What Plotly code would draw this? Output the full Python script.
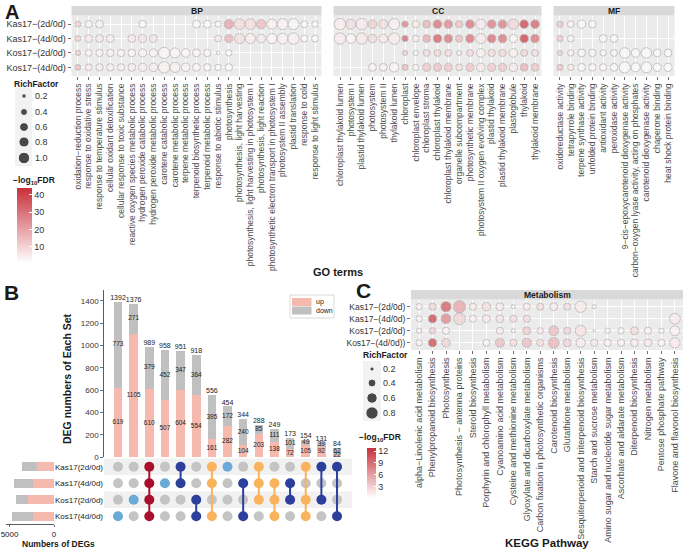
import plotly.graph_objects as go

W, H = 685, 550
FONT = "Liberation Sans, Arial, Helvetica, sans-serif"
N = None

def X(px):
    return px / W

def Y(py):
    return 1 - py / H

# ------------------------------------------------------------------ data A
go_rows = ["Kas17−(2d/0d)", "Kas17−(4d/0d)", "Kos17−(2d/0d)", "Kos17−(4d/0d)"]

bp_terms = ["oxidation−reduction process", "response to oxidative stress",
            "response to temperature stimulus", "cellular oxidant detoxification",
            "cellular response to toxic substance", "reactive oxygen species metabolic process",
            "hydrogen peroxide catabolic process", "hydrogen peroxide metabolic process",
            "carotene catabolic process", "carotene metabolic process",
            "terpene metabolic process", "terpenoid biosynthetic process",
            "terpenoid metabolic process", "response to abiotic stimulus", "photosynthesis",
            "photosynthesis, light harvesting", "photosynthesis, light harvesting in photosystem I",
            "photosynthesis, light reaction", "photosynthetic electron transport in photosystem I",
            "photosystem II assembly", "plastid translation", "response to cold",
            "response to light stimulus"]
bp_rich_kas2 = [0.30, 0.45, 0.50, N, N, N, 0.45, N, N, N, N, 0.50, 0.50, 0.35, 0.70, 0.90, 0.90, 0.70, 0.80, 0.95, 0.95, 0.40, 0.35]
bp_fdr_kas2 = [12, 4, 4, N, N, N, 2, N, N, N, N, 2, 2, 3, 22, 9, 8, 16, 4, 4, 3, 2, 2]
bp_rich_kas4 = [0.30, 0.50, 0.50, 0.50, N, 0.50, 0.55, 0.50, N, N, N, N, N, 0.40, 0.55, 0.80, 0.80, 0.60, 0.80, 0.90, 1.00, 0.40, 0.40]
bp_fdr_kas4 = [12, 6, 6, 5, N, 6, 7, 7, N, N, N, N, N, 6, 18, 8, 5, 6, 3, 4, 4, 2, 2]
bp_rich_kos2 = [0.25, 0.40, 0.45, 0.45, 0.45, 0.50, 0.55, 0.55, 1.00, 0.80, 0.60, 0.50, 0.45, 0.15, 0.35, N, N, N, N, N, N, N, N]
bp_fdr_kos2 = [12, 4, 4, 4, 4, 4, 4, 4, 3, 3, 3, 3, 3, 2, 2, N, N, N, N, N, N, N, N]
bp_rich_kos4 = [0.30, 0.40, 0.45, 0.45, 0.45, 0.50, 0.55, 0.60, 1.00, 0.80, 0.60, 0.50, 0.45, 0.35, 0.45, N, N, N, N, N, N, N, N]
bp_fdr_kos4 = [16, 6, 6, 5, 5, 5, 5, 5, 4, 4, 4, 3, 3, 2, 2, N, N, N, N, N, N, N, N]

cc_terms = ["chloroplast thylakoid lumen", "photosystem I", "plastid thylakoid lumen",
            "photosystem", "photosystem II", "thylakoid lumen", "chloroplast",
            "chloroplast envelope", "chloroplast stroma", "chloroplast thylakoid",
            "chloroplast thylakoid membrane", "organelle subcompartment",
            "photosynthetic membrane", "photosystem II oxygen evolving complex",
            "plastid thylakoid", "plastid thylakoid membrane", "plastoglobule",
            "thylakoid", "thylakoid membrane"]
cc_rich_kas2 = [1.00, 0.80, 1.00, 0.60, 0.65, 0.95, 0.35, 0.45, 0.50, 0.60, 0.60, 0.45, 0.60, 0.80, 0.60, 0.60, 0.85, 0.60, 0.60]
cc_fdr_kas2 = [4, 8, 5, 12, 8, 4, 30, 5, 18, 33, 28, 15, 32, 5, 30, 30, 10, 43, 36]
cc_rich_kas4 = [1.00, 0.75, 1.00, 0.60, 0.60, 1.00, 0.35, 0.40, 0.50, 0.60, 0.60, 0.45, 0.60, 0.80, 0.60, 0.60, 0.55, 0.60, 0.60]
cc_fdr_kas4 = [5, 3, 6, 9, 6, 5, 36, 5, 20, 37, 32, 16, 33, 6, 34, 32, 3, 45, 32]
cc_rich_kos2 = [N, N, N, N, N, N, 0.25, 0.25, 0.40, 0.40, 0.40, 0.25, 0.40, 0.60, 0.45, 0.45, 0.60, 0.40, 0.40]
cc_fdr_kos2 = [N, N, N, N, N, N, 12, 2, 9, 10, 9, 6, 9, 4, 9, 9, 4, 10, 8]
cc_rich_kos4 = [N, N, N, 0.50, 0.50, 0.70, 0.35, 0.35, 0.55, 0.55, 0.55, 0.40, 0.55, 0.60, 0.55, 0.55, 0.60, 0.50, 0.50]
cc_fdr_kos4 = [N, N, N, 4, 4, 3, 17, 4, 13, 15, 14, 8, 14, 6, 13, 13, 6, 18, 14]

mf_terms = ["oxidoreductase activity", "tetrapyrrole binding", "terpene synthase activity",
            "unfolded protein binding", "antioxidant activity", "peroxidase activity",
            "9−cis−epoxycarotenoid dioxygenase activity",
            "carbon−oxygen lyase activity, acting on phosphates",
            "carotenoid dioxygenase activity", "chaperone binding", "heat shock protein binding"]
mf_rich_kas2 = [0.35, 0.40, 0.55, 0.45, N, N, N, N, N, N, N]
mf_fdr_kas2 = [14, 4, 2, 2, N, N, N, N, N, N, N]
mf_rich_kas4 = [0.35, 0.40, N, N, 0.50, 0.50, N, N, N, N, N]
mf_fdr_kas4 = [13, 4, N, N, 3, 3, N, N, N, N, N]
mf_rich_kos2 = [0.25, 0.35, 0.50, 0.45, 0.35, 0.40, 0.85, 0.60, 0.85, 0.50, 0.50]
mf_fdr_kos2 = [12, 4, 3, 3, 3, 3, 2, 2, 2, 2, 2]
mf_rich_kos4 = [0.35, 0.35, 0.50, 0.45, 0.45, 0.50, 0.95, 0.65, 0.90, 0.55, 0.55]
mf_fdr_kos4 = [15, 5, 3, 3, 3, 3, 2, 2, 2, 2, 2]

go_size_legend = [0.2, 0.4, 0.6, 0.8, 1.0]
go_fdr_ticks = [10, 20, 30, 40]

# ------------------------------------------------------------------ data B
int_total = [1392, 1376, 989, 958, 951, 918, 556, 454, 344, 288, 249, 173, 154, 131, 84]
int_up = [619, 1105, 610, 507, 604, 554, 161, 282, 104, 203, 138, 72, 105, 92, 22]
int_down = [773, 271, 379, 452, 347, 364, 395, 172, 240, 85, 111, 101, 49, 39, 62]
set_rows = ["Kas17(2d/0d)", "Kas17(4d/0d)", "Kos17(2d/0d)", "Kos17(4d/0d)"]
int_sets = [
    ["Kos17(4d/0d)"],
    ["Kos17(2d/0d)"],
    ["Kas17(2d/0d)", "Kas17(4d/0d)", "Kos17(2d/0d)", "Kos17(4d/0d)"],
    ["Kas17(4d/0d)"],
    ["Kas17(2d/0d)", "Kas17(4d/0d)"],
    ["Kos17(2d/0d)", "Kos17(4d/0d)"],
    ["Kas17(2d/0d)", "Kas17(4d/0d)", "Kos17(4d/0d)"],
    ["Kas17(2d/0d)"],
    ["Kas17(4d/0d)", "Kos17(4d/0d)"],
    ["Kas17(2d/0d)", "Kas17(4d/0d)", "Kos17(2d/0d)"],
    ["Kas17(4d/0d)", "Kos17(2d/0d)", "Kos17(4d/0d)"],
    ["Kas17(4d/0d)", "Kos17(2d/0d)"],
    ["Kas17(2d/0d)", "Kos17(2d/0d)", "Kos17(4d/0d)"],
    ["Kas17(2d/0d)", "Kos17(2d/0d)"],
    ["Kas17(2d/0d)", "Kos17(4d/0d)"],
]
set_up = [1950, 2400, 2890, 2330]
set_down = [1657, 2108, 1388, 2356]
b_yticks = [0, 200, 400, 600, 800, 1000, 1200, 1400]
set_xticks = [0, 5000]

# ------------------------------------------------------------------ data C
kegg_rows = ["Kas17−(2d/0d)", "Kas17−(4d/0d)", "Kos17−(2d/0d)", "Kos17−(4d/0d))"]
kegg_terms = ["alpha−Linolenic acid metabolism", "Phenylpropanoid biosynthesis",
              "Photosynthesis", "Photosynthesis − antenna proteins", "Steroid biosynthesis",
              "Porphyrin and chlorophyll metabolism", "Cyanoamino acid metabolism",
              "Cysteine and methionine metabolism", "Glyoxylate and dicarboxylate metabolism",
              "Carbon fixation in photosynthetic organisms", "Carotenoid biosynthesis",
              "Glutathione metabolism", "Sesquiterpenoid and triterpenoid biosynthesis",
              "Starch and sucrose metabolism", "Amino sugar and nucleotide sugar metabolism",
              "Ascorbate and aldarate metabolism", "Diterpenoid biosynthesis",
              "Nitrogen metabolism", "Pentose phosphate pathway",
              "Flavone and flavonol biosynthesis"]
kegg_rich_kas2 = [0.30, 0.35, 0.60, 0.80, 0.35, 0.45, 0.40, 0.20, 0.35, 0.35, 0.40, 0.35, 0.70, 0.20, N, N, N, N, N, N]
kegg_fdr_kas2 = [1, 3, 11, 6, 1.5, 2.5, 1.5, 0.8, 1.5, 2.5, 1.5, 2.5, 1.5, 0.8, N, N, N, N, N, N]
kegg_rich_kas4 = [0.30, 0.45, 0.55, 0.75, 0.35, 0.40, 0.40, 0.35, 0.35, N, N, N, N, N, N, N, N, N, N, 0.65]
kegg_fdr_kas4 = [1, 12.5, 8, 3, 1, 1.5, 2, 2.5, 2.5, N, N, N, N, N, N, N, N, N, N, 1.5]
kegg_rich_kos2 = [0.25, 0.30, 0.35, N, N, N, 0.35, 0.20, 0.40, 0.30, 0.55, 0.35, 0.65, 0.15, 0.25, 0.30, 0.40, 0.35, 0.25, 0.55]
kegg_fdr_kos2 = [1, 3.5, 1, N, N, N, 1.5, 1, 3.5, 1.5, 4.5, 3, 2, 0.5, 0.8, 0.8, 2.5, 1, 0.8, 1]
kegg_rich_kos4 = [0.30, 0.45, 0.45, N, N, 0.35, 0.50, 0.35, 0.50, 0.35, 0.65, 0.40, 0.50, 0.35, 0.35, 0.35, 0.40, 0.40, 0.35, 0.60]
kegg_fdr_kos4 = [1, 12, 3, N, N, 1, 4.5, 2.5, 4.5, 2.5, 5, 3, 1.5, 1.5, 1, 1, 1.5, 1.5, 1, 1.5]
kegg_size_legend = [0.2, 0.4, 0.6, 0.8]
kegg_fdr_ticks = [3, 6, 9, 12]

# ------------------------------------------------------------------ style
PANEL_BG = "#ebebeb"
STRIP_BG = "#d9d9d9"
UP_COL = "#f6b9ad"
DOWN_COL = "#c0c0c0"
DOT_GRAY = "#c4c4c4"
DEG_COLS = {1: "#6aaad6", 2: "#2b3f9b", 3: "#fab35d", 4: "#a8102c"}
RED_SCALE = [[0, "#ffffff"], [1, "#c8303a"]]


def size_a(r):
    return (max(140 * r - 8, 4)) ** 0.5


def size_c(r):
    return (max(225 * r - 27, 4)) ** 0.5


fig = go.Figure()


def dot_trace(terms, rows, rich_rows, fdr_rows, xa, ya, cax, size_fn):
    xs, ys, ss, cs = [], [], [], []
    for row, rich, fdr in zip(rows, rich_rows, fdr_rows):
        for t, r, f in zip(terms, rich, fdr):
            if r is None:
                continue
            xs.append(t)
            ys.append(row)
            ss.append(size_fn(r))
            cs.append(f)
    return go.Scatter(x=xs, y=ys, mode="markers", xaxis=xa, yaxis=ya,
                      marker=dict(size=ss, color=cs, coloraxis=cax,
                                  line=dict(color="#a9a9a9", width=0.9)),
                      showlegend=False, hoverinfo="skip")


fig.add_trace(dot_trace(bp_terms, go_rows,
                        [bp_rich_kas2, bp_rich_kas4, bp_rich_kos2, bp_rich_kos4],
                        [bp_fdr_kas2, bp_fdr_kas4, bp_fdr_kos2, bp_fdr_kos4],
                        "x", "y", "coloraxis", size_a))
fig.add_trace(dot_trace(cc_terms, go_rows,
                        [cc_rich_kas2, cc_rich_kas4, cc_rich_kos2, cc_rich_kos4],
                        [cc_fdr_kas2, cc_fdr_kas4, cc_fdr_kos2, cc_fdr_kos4],
                        "x2", "y2", "coloraxis", size_a))
fig.add_trace(dot_trace(mf_terms, go_rows,
                        [mf_rich_kas2, mf_rich_kas4, mf_rich_kos2, mf_rich_kos4],
                        [mf_fdr_kas2, mf_fdr_kas4, mf_fdr_kos2, mf_fdr_kos4],
                        "x3", "y3", "coloraxis", size_a))
fig.add_trace(dot_trace(kegg_terms, kegg_rows,
                        [kegg_rich_kas2, kegg_rich_kas4, kegg_rich_kos2, kegg_rich_kos4],
                        [kegg_fdr_kas2, kegg_fdr_kas4, kegg_fdr_kos2, kegg_fdr_kos4],
                        "x7", "y7", "coloraxis2", size_c))

# ------------------------------------------------------------------ B bars
xi = list(range(1, len(int_total) + 1))
fig.add_trace(go.Bar(x=xi, y=int_up, width=0.55, marker=dict(color=UP_COL, line=dict(width=0)),
                     xaxis="x4", yaxis="y4", showlegend=False, hoverinfo="skip"))
fig.add_trace(go.Bar(x=xi, y=int_down, width=0.55, marker=dict(color=DOWN_COL, line=dict(width=0)),
                     xaxis="x4", yaxis="y4", showlegend=False, hoverinfo="skip"))
fig.add_trace(go.Scatter(x=xi, y=[u / 2 for u in int_up], text=[str(u) for u in int_up],
                         mode="text", textfont=dict(size=6.5, color="#222222", family=FONT),
                         xaxis="x4", yaxis="y4", showlegend=False, hoverinfo="skip"))
fig.add_trace(go.Scatter(x=xi, y=[u + d / 2 for u, d in zip(int_up, int_down)],
                         text=[str(d) for d in int_down],
                         mode="text", textfont=dict(size=6.5, color="#222222", family=FONT),
                         xaxis="x4", yaxis="y4", showlegend=False, hoverinfo="skip"))
fig.add_trace(go.Scatter(x=xi, y=int_total, text=[str(t) for t in int_total],
                         mode="text", textposition="top center",
                         textfont=dict(size=7, color="#222222", family=FONT),
                         xaxis="x4", yaxis="y4", showlegend=False, hoverinfo="skip"))

# matrix
gx, gy = [], []
for i, members in zip(xi, int_sets):
    for r in set_rows:
        if r not in members:
            gx.append(i)
            gy.append(r)
fig.add_trace(go.Scatter(x=gx, y=gy, mode="markers", marker=dict(size=10, color=DOT_GRAY),
                         xaxis="x5", yaxis="y5", showlegend=False, hoverinfo="skip"))
for i, members in zip(xi, int_sets):
    col = DEG_COLS[len(members)]
    idx = sorted(set_rows.index(m) for m in members)
    if len(idx) > 1:
        fig.add_trace(go.Scatter(x=[i, i], y=[set_rows[idx[0]], set_rows[idx[-1]]], mode="lines",
                                 line=dict(color=col, width=2), xaxis="x5", yaxis="y5",
                                 showlegend=False, hoverinfo="skip"))
    fig.add_trace(go.Scatter(x=[i] * len(members), y=members, mode="markers",
                             marker=dict(size=10, color=col), xaxis="x5", yaxis="y5",
                             showlegend=False, hoverinfo="skip"))

# set sizes
fig.add_trace(go.Bar(x=set_up, y=set_rows, orientation="h", width=0.55,
                     marker=dict(color=UP_COL, line=dict(width=0)),
                     xaxis="x6", yaxis="y6", showlegend=False, hoverinfo="skip"))
fig.add_trace(go.Bar(x=set_down, y=set_rows, orientation="h", width=0.55,
                     marker=dict(color=DOWN_COL, line=dict(width=0)),
                     xaxis="x6", yaxis="y6", showlegend=False, hoverinfo="skip"))

# ------------------------------------------------------------------ legend keys (pixel overlay axis)
leg_a_y = [96, 112, 127, 142, 158]
fig.add_trace(go.Scatter(x=[24] * len(go_size_legend), y=leg_a_y, mode="markers",
                         marker=dict(size=[size_a(v) for v in go_size_legend], color="black"),
                         xaxis="x8", yaxis="y8", showlegend=False, hoverinfo="skip"))
leg_c_y = [369, 383, 398, 413]
fig.add_trace(go.Scatter(x=[372] * len(kegg_size_legend), y=leg_c_y, mode="markers",
                         marker=dict(size=[size_c(v) for v in kegg_size_legend], color="black"),
                         xaxis="x8", yaxis="y8", showlegend=False, hoverinfo="skip"))

# ------------------------------------------------------------------ axes
A_Y = (15.5, 76.0)
BP_X = (71.5, 321.5)
CC_X = (333.5, 541.5)
MF_X = (553.5, 674.5)
C_X = (411.0, 683.0)
C_Y = (299.5, 350.0)
B_X = (104.0, 345.0)
B_Y = (289.7, 457.0)
M_Y = (458.5, 524.5)
S_X = (6.0, 54.0)
S_Y = (458.5, 524.5)


def dom_x(p):
    return [X(p[0]), X(p[1])]


def dom_y(p):
    return [Y(p[1]), Y(p[0])]


def cat_x(dom, terms, fsize):
    return dict(domain=dom_x(dom), type="category", categoryorder="array", categoryarray=terms,
                range=[-0.6, len(terms) - 0.4], showgrid=True, gridcolor="white", gridwidth=1,
                zeroline=False, showline=False, ticks="outside", ticklen=3, tickwidth=0.7,
                tickcolor="#333333", tickangle=-90,
                tickfont=dict(size=fsize, color="#4d4d4d", family=FONT),
                automargin=False, fixedrange=True)


def cat_y(dom, rows, anchor, labels, fsize):
    return dict(domain=dom_y(dom), anchor=anchor, type="category", categoryorder="array",
                categoryarray=rows[::-1], range=[-0.6, len(rows) - 0.4], showgrid=True,
                gridcolor="white", gridwidth=1, zeroline=False, showline=False,
                ticks="outside" if labels else "", ticklen=3, tickwidth=0.7, tickcolor="#333333",
                showticklabels=labels, tickfont=dict(size=fsize, color="#333333", family=FONT),
                automargin=False, fixedrange=True)


hidden = dict(visible=False, fixedrange=True, automargin=False)

layout_axes = dict(
    xaxis=dict(cat_x(BP_X, bp_terms, 8.5), anchor="y"),
    yaxis=cat_y(A_Y, go_rows, "x", True, 9),
    xaxis2=dict(cat_x(CC_X, cc_terms, 8.5), anchor="y2"),
    yaxis2=cat_y(A_Y, go_rows, "x2", False, 9),
    xaxis3=dict(cat_x(MF_X, mf_terms, 8.5), anchor="y3"),
    yaxis3=cat_y(A_Y, go_rows, "x3", False, 9),
    xaxis7=dict(cat_x(C_X, kegg_terms, 9), anchor="y7"),
    yaxis7=cat_y(C_Y, kegg_rows, "x7", True, 8.5),
    xaxis4=dict(domain=dom_x(B_X), anchor="y4", range=[0.105, 15.51], visible=False,
                fixedrange=True),
    yaxis4=dict(domain=dom_y(B_Y), anchor="x4", range=[0, 1500], showgrid=False, zeroline=False,
                showline=True, linecolor="#333333", linewidth=0.8, ticks="outside", ticklen=3,
                tickwidth=0.7, tickcolor="#333333", tickvals=b_yticks,
                tickfont=dict(size=8, color="#333333", family=FONT), automargin=False,
                fixedrange=True),
    xaxis5=dict(domain=dom_x(B_X), anchor="y5", range=[0.105, 15.51], visible=False,
                fixedrange=True),
    yaxis5=dict(domain=dom_y(M_Y), anchor="x5", type="category", categoryorder="array",
                categoryarray=set_rows[::-1], range=[-0.5, 3.5], showgrid=False, zeroline=False,
                showline=False, ticks="", tickfont=dict(size=8, color="#222222", family=FONT),
                automargin=False, fixedrange=True),
    xaxis6=dict(domain=dom_x(S_X), anchor="y6", range=[5400, 0], showgrid=False, zeroline=False,
                showline=True, linecolor="#333333", linewidth=0.8, ticks="outside", ticklen=2,
                tickwidth=0.7, tickcolor="#333333", tickvals=set_xticks,
                tickfont=dict(size=8, color="#222222", family=FONT), automargin=False,
                fixedrange=True),
    yaxis6=dict(domain=dom_y(S_Y), anchor="x6", type="category", categoryorder="array",
                categoryarray=set_rows[::-1], range=[-0.5, 3.5], visible=False, fixedrange=True),
    xaxis8=dict(domain=[0, 1], anchor="y8", range=[0, W], **hidden),
    yaxis8=dict(domain=[0, 1], anchor="x8", range=[H, 0], **hidden),
)

# ------------------------------------------------------------------ shapes


def rect(x0, y0, x1, y1, fill, layer="below", line=None):
    return dict(type="rect", xref="paper", yref="paper", x0=X(x0), x1=X(x1), y0=Y(y1), y1=Y(y0),
                fillcolor=fill, line=line if line else dict(width=0), layer=layer)


shapes = []
for dx in (BP_X, CC_X, MF_X):
    shapes.append(rect(dx[0], A_Y[0], dx[1], A_Y[1], PANEL_BG))
    shapes.append(rect(dx[0], 6, dx[1], A_Y[0], STRIP_BG))
shapes.append(rect(C_X[0], C_Y[0], C_X[1], C_Y[1], PANEL_BG))
shapes.append(rect(C_X[0], 290, C_X[1], C_Y[0], STRIP_BG))
# matrix bands
shapes.append(rect(104, 458.5, 352, 475, "#f1f1f1"))
shapes.append(rect(104, 491.5, 352, 508, "#f1f1f1"))
# legend key backgrounds
shapes.append(rect(15, 88, 32, 166, "#f2f2f2"))
shapes.append(rect(363, 361, 381, 421, "#f2f2f2"))
# up/down legend
shapes.append(rect(290, 295, 334, 318, "white", layer="above", line=dict(color="#d0d0d0", width=0.8)))
shapes.append(rect(292, 298, 311.5, 306, UP_COL, layer="above"))
shapes.append(rect(292, 306.5, 311.5, 314.5, DOWN_COL, layer="above"))

# ------------------------------------------------------------------ annotations


def ann(text, px, py, size, bold=False, xanchor="center", yanchor="middle", color="#1a1a1a",
        angle=0):
    return dict(text=f"<b>{text}</b>" if bold else text, x=X(px), y=Y(py), xref="paper",
                yref="paper", showarrow=False, xanchor=xanchor, yanchor=yanchor,
                font=dict(size=size, color=color, family=FONT), textangle=angle, borderpad=0)


annotations = [
    ann("A", 12, 0, 20, True, yanchor="top"),
    ann("B", 11, 292, 21, True),
    ann("C", 363, 290, 21, True),
    ann("BP", (BP_X[0] + BP_X[1]) / 2, 10.8, 8.5, True),
    ann("CC", (CC_X[0] + CC_X[1]) / 2, 10.8, 8.5, True),
    ann("MF", (MF_X[0] + MF_X[1]) / 2, 10.8, 8.5, True),
    ann("Metabolism", (C_X[0] + C_X[1]) / 2, 294.8, 8.5, True),
    ann("GO terms", 338, 272, 11, True),
    ann("KEGG Pathway", 547, 543, 11.5, True),
    ann("DEG numbers of Each Set", 67, 379, 10.5, True, angle=-90),
    ann("Numbers of DEGs", 58, 543.5, 8.5, True),
    ann("RichFactor", 36, 84, 8.5, True),
    ann("RichFactor", 385.5, 355, 8.5, True),
    ann("−log<sub>10</sub>FDR", 34, 180, 8.5, True),
    ann("−log<sub>10</sub>FDR", 380.5, 437, 8.5, True),
    ann("up", 315, 302, 7, xanchor="left"),
    ann("down", 315, 310.5, 7, xanchor="left"),
]
for v, py in zip(go_size_legend, leg_a_y):
    annotations.append(ann(f"{v:.1f}", 34, py, 9, xanchor="left", color="#333333"))
for v, py in zip(kegg_size_legend, leg_c_y):
    annotations.append(ann(f"{v:.1f}", 382, py, 9, xanchor="left", color="#333333"))

fig.update_layout(
    width=W, height=H, autosize=False, margin=dict(l=0, r=0, t=0, b=0, pad=0),
    paper_bgcolor="white", plot_bgcolor="rgba(0,0,0,0)", barmode="stack", showlegend=False,
    font=dict(family=FONT, color="#333333"), template="none",
    shapes=shapes, annotations=annotations,
    coloraxis=dict(colorscale=RED_SCALE, cmin=0.7, cmax=44,
                   colorbar=dict(x=X(17), xanchor="left", y=Y(188), yanchor="top",
                                 lenmode="pixels", len=75, thicknessmode="pixels", thickness=15,
                                 xpad=0, ypad=0, outlinewidth=0, ticks="inside", ticklen=3,
                                 tickcolor="white", tickvals=go_fdr_ticks,
                                 tickfont=dict(size=9, color="#333333", family=FONT))),
    coloraxis2=dict(colorscale=RED_SCALE, cmin=0.1, cmax=12.8,
                    colorbar=dict(x=X(367), xanchor="left", y=Y(448), yanchor="top",
                                  lenmode="pixels", len=50, thicknessmode="pixels", thickness=9,
                                  xpad=0, ypad=0, outlinewidth=0, ticks="inside", ticklen=2,
                                  tickcolor="white", tickvals=kegg_fdr_ticks,
                                  tickfont=dict(size=9, color="#333333", family=FONT))),
    **layout_axes,
)

fig.write_html("out.html", config={"displayModeBar": False, "staticPlot": True},
               post_script="document.body.style.margin='0px';")
